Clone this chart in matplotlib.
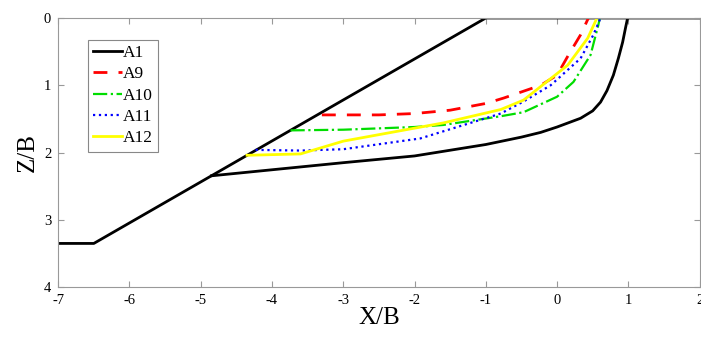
import matplotlib
matplotlib.use("Agg")
import matplotlib.pyplot as plt

# ground profile (drawn with the A1 style)
ground_x = [-7.0, -6.5, -1.0, 2.0]
ground_z = [3.35, 3.35, 0.0, 0.0]

# slip surfaces
a1_x = [-4.85, -3.0, -2.0, -1.0, -0.5, -0.23, 0.0, 0.33, 0.5, 0.61, 0.7, 0.79, 0.86, 0.92, 0.96, 0.99]
a1_z = [2.345, 2.15, 2.05, 1.88, 1.77, 1.70, 1.62, 1.49, 1.38, 1.25, 1.08, 0.85, 0.6, 0.36, 0.15, 0.0]

a9_x = [-3.3, -2.5, -2.0, -1.5, -1.0, -0.75, -0.23, 0.0, 0.16, 0.33, 0.44]
a9_z = [1.44, 1.44, 1.42, 1.37, 1.27, 1.19, 1.0, 0.85, 0.55, 0.25, 0.0]

a10_x = [-3.74, -3.0, -2.0, -1.6, -0.79, -0.47, 0.0, 0.23, 0.47, 0.58, 0.6]
a10_z = [1.67, 1.66, 1.62, 1.59, 1.46, 1.40, 1.17, 0.95, 0.55, 0.1, 0.0]

a11_x = [-4.23, -3.6, -3.0, -1.92, -0.79, -0.47, -0.09, 0.33, 0.51, 0.61]
a11_z = [1.96, 1.97, 1.95, 1.79, 1.42, 1.24, 1.0, 0.6, 0.25, 0.0]

a12_x = [-4.35, -3.6, -3.0, -1.6, -0.79, -0.47, 0.15, 0.43, 0.56]
a12_z = [2.04, 2.02, 1.83, 1.56, 1.36, 1.22, 0.7, 0.3, 0.0]

plt.rcParams['font.family'] = ['Liberation Serif', 'DejaVu Serif']
plt.rcParams['axes.unicode_minus'] = False

fig = plt.figure(figsize=(7.01, 3.46), dpi=100)
ax = fig.add_axes([0.083, 0.17, 0.915, 0.778])

ax.plot(ground_x, ground_z, color='black', lw=2)
ax.plot(a1_x, a1_z, color='black', lw=2, label='A1')
ax.plot(a9_x, a9_z, color='#ff0000', lw=2, ls=(0, (5, 4)), label='A9')
ax.plot(a10_x, a10_z, color='#00dd00', lw=1.6, ls='-.', label='A10')
ax.plot(a11_x, a11_z, color='#0000ff', lw=1.6, ls=':', label='A11')
ax.plot(a12_x, a12_z, color='#ffff00', lw=2, label='A12')

ax.set_xlim(-7, 2)
ax.set_ylim(4, 0)
ax.set_xticks(range(-7, 3))
ax.set_yticks(range(0, 5))
ax.tick_params(direction='in', top=True, right=True, labelsize=10.5,
               color='#999999', length=4, pad=5)
for s in ax.spines.values():
    s.set_color('#999999')
ax.set_xlabel('X/B', fontsize=18, labelpad=0)
ax.set_ylabel('Z/B', fontsize=18, labelpad=4)

leg = ax.legend(loc='upper left', bbox_to_anchor=(0.046, 0.92), fontsize=12.5,
                handlelength=1.7, handletextpad=0.0, borderpad=0.3,
                labelspacing=0.3, fancybox=False, framealpha=1, borderaxespad=0)
leg.get_frame().set_edgecolor('#888888')
leg.get_frame().set_linewidth(0.8)

fig.savefig('out.png', dpi=100)
